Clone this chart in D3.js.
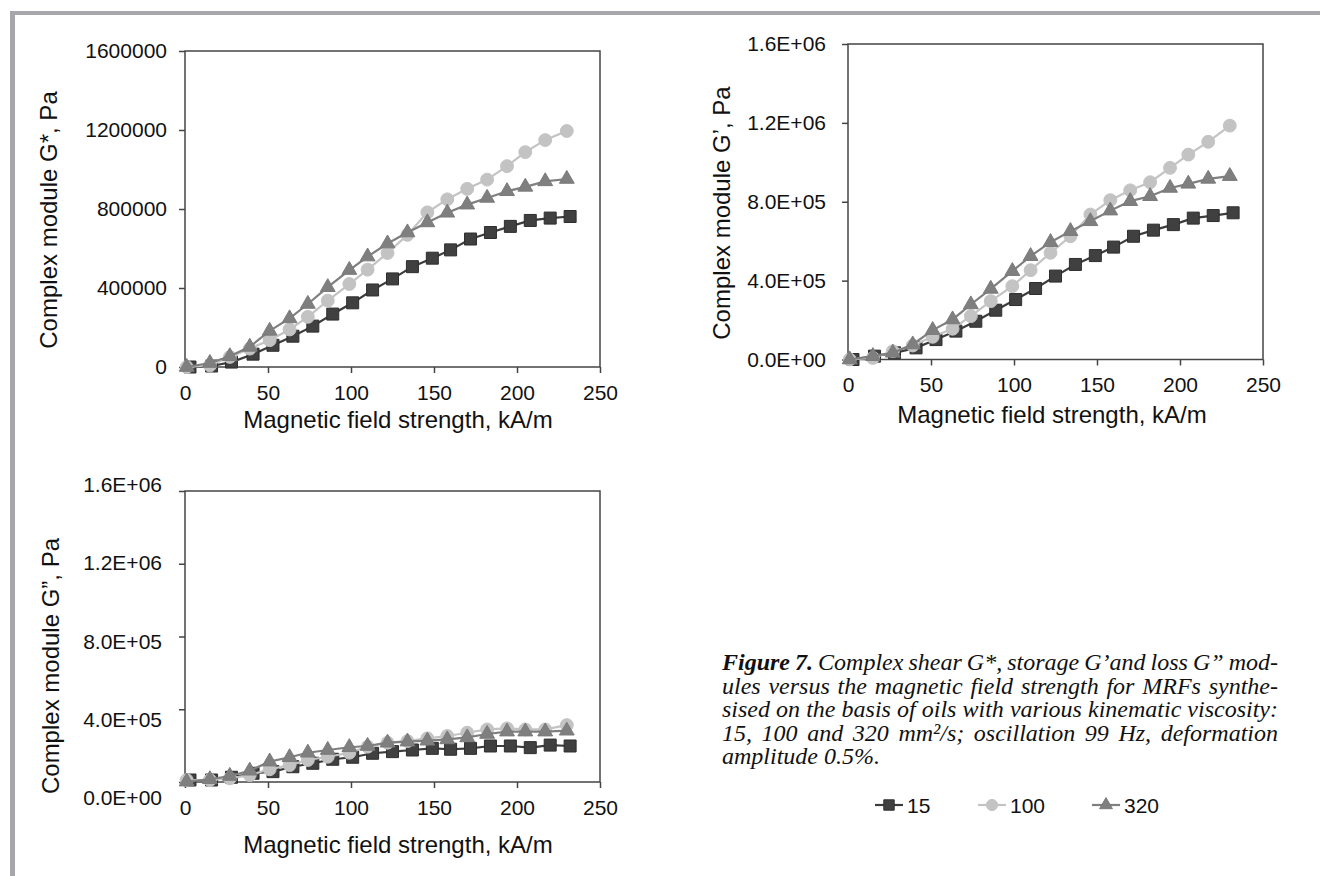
<!DOCTYPE html>
<html>
<head>
<meta charset="utf-8">
<script src="https://cdn.jsdelivr.net/npm/d3@7"></script>
<style>
  body { margin: 0; background: #fff; }
  svg { display: block; }
</style>
</head>
<body>
<svg id="fig" width="1320" height="876"></svg>
<script>
// field strength, kA/m (the 15 mm2/s series sits a little to the right in the source)
const field15 = [3, 16, 28, 41, 53, 65, 77, 89, 101, 113, 125, 137, 149, 160, 172, 184, 196, 208, 220, 232];
const field = [1, 15, 27, 39, 51, 63, 74, 86, 99, 110, 122, 134, 146, 158, 170, 182, 194, 205, 217, 230];

// complex shear modulus G*, Pa
const gStar15 = [0, 5000, 25000, 65000, 110000, 156000, 207000, 268000, 325000, 390000, 446000, 508000, 551000, 593000, 648000, 681000, 712000, 742000, 754000, 762000];
const gStar100 = [0, 8000, 51000, 93000, 136000, 190000, 254000, 336000, 420000, 493000, 577000, 669000, 783000, 849000, 902000, 949000, 1017000, 1088000, 1149000, 1195000];
const gStar320 = [0, 20000, 54000, 102000, 183000, 246000, 319000, 404000, 491000, 559000, 625000, 681000, 732000, 781000, 822000, 856000, 890000, 912000, 940000, 952000];

// storage modulus G', Pa
const gStore15 = [0, 17000, 34000, 59000, 101000, 144000, 194000, 250000, 304000, 360000, 423000, 482000, 527000, 570000, 625000, 656000, 684000, 717000, 730000, 744000];
const gStore100 = [0, 8000, 42000, 71000, 115000, 156000, 220000, 296000, 372000, 453000, 541000, 625000, 735000, 808000, 858000, 899000, 972000, 1039000, 1104000, 1186000];
const gStore320 = [0, 17000, 34000, 76000, 149000, 203000, 279000, 358000, 448000, 524000, 595000, 651000, 701000, 755000, 803000, 828000, 870000, 891000, 916000, 930000];

// loss modulus G", Pa
const gLoss15 = [11000, 11000, 26000, 48000, 57000, 84000, 103000, 125000, 136000, 158000, 167000, 176000, 185000, 180000, 185000, 198000, 198000, 189000, 203000, 198000];
const gLoss100 = [11000, 11000, 20000, 38000, 70000, 93000, 121000, 139000, 161000, 194000, 216000, 225000, 240000, 253000, 271000, 289000, 295000, 289000, 289000, 313000];
const gLoss320 = [2000, 15000, 33000, 62000, 112000, 136000, 161000, 176000, 191000, 198000, 216000, 222000, 227000, 234000, 245000, 264000, 277000, 277000, 277000, 282000];

const viscosities = ["15", "100", "320"];
const xTicks = [0, 50, 100, 150, 200, 250];
const yTicks = [0, 400000, 800000, 1200000, 1600000];

const SANS = "'Liberation Sans', Arial, sans-serif";
const SERIF = "'Liberation Serif', 'Times New Roman', serif";
const AXIS_COLOR = "#444";

const styles = {
	"15": { symbol: d3.symbolSquare, size: 144, fill: "#404040", stroke: "#2e2e2e", line: "#3c3c3c" },
	"100": { symbol: d3.symbolCircle, size: 130, fill: "#c3c3c3", stroke: "#c3c3c3", line: "#c3c3c3" },
	"320": { symbol: d3.symbolTriangle, size: 95, fill: "#7f7f7f", stroke: "#7a7a7a", line: "#7f7f7f" }
};

const sciFormat = v => {
	if (v === 0) return "0.0E+00";
	const e = Math.floor(Math.log10(v));
	return (v / Math.pow(10, e)).toFixed(1) + "E+" + String(e).padStart(2, "0");
};

const panels = [
	{
		left: 185, right: 600, top: 51, bottom: 367,
		format: d3.format("d"), yPad: 12,
		title: "Complex module G*, Pa", titleX: 57, titleY: 220,
		xTitleX: 398, xTitleY: 428,
		series: [[field15, gStar15], [field, gStar100], [field, gStar320]]
	},
	{
		left: 848, right: 1263, top: 44, bottom: 359.5,
		format: sciFormat, yPad: 16,
		title: "Complex module G\u2019, Pa", titleX: 730, titleY: 213,
		xTitleX: 1052, xTitleY: 423,
		series: [[field15, gStore15], [field, gStore100], [field, gStore320]]
	},
	{
		left: 185, right: 600, top: 491, bottom: 782,
		format: sciFormat, yPad: 17,
		// tick labels drift away from their ticks in the source picture
		labelRange: [798, 485],
		title: "Complex module G\u201d, Pa", titleX: 59, titleY: 666,
		xTitleX: 398, xTitleY: 853,
		series: [[field15, gLoss15], [field, gLoss100], [field, gLoss320]]
	}
];

const svg = d3.select("#fig");

// grey page frame (top and left edges)
svg.append("rect").attr("x", 10).attr("y", 11).attr("width", 1310).attr("height", 4).attr("fill", "#a7a7ab");
svg.append("rect").attr("x", 10).attr("y", 11).attr("width", 5).attr("height", 865).attr("fill", "#a7a7ab");

function drawPanel(p) {
	const x = d3.scaleLinear().domain([0, 250]).range([p.left, p.right]);
	const y = d3.scaleLinear().domain([0, 1600000]).range([p.bottom, p.top]);

	const gx = svg.append("g")
		.attr("transform", `translate(0,${p.bottom})`)
		.call(d3.axisBottom(x).tickValues(xTicks).tickSize(6).tickPadding(12).tickFormat(d3.format("d")));
	gx.select(".domain").remove();

	const gy = svg.append("g")
		.attr("transform", `translate(${p.left},0)`)
		.call(d3.axisLeft(y).tickValues(yTicks).tickSize(6).tickPadding(p.yPad).tickFormat(p.format));
	gy.select(".domain").remove();

	if (p.labelRange) {
		const labelY = d3.scaleLinear().domain([0, 1600000]).range(p.labelRange);
		gy.selectAll(".tick text").attr("y", d => labelY(d) - y(d));
	}

	[gx, gy].forEach(g => {
		g.attr("font-family", SANS).attr("font-size", 21);
		g.selectAll(".tick line").attr("stroke", AXIS_COLOR).attr("stroke-width", 1.5);
		g.selectAll(".tick text").attr("fill", "#111");
	});

	// plot frame
	svg.append("rect")
		.attr("x", p.left).attr("y", p.top)
		.attr("width", p.right - p.left).attr("height", p.bottom - p.top)
		.attr("fill", "none").attr("stroke", AXIS_COLOR).attr("stroke-width", 1.5);

	const line = d3.line().x(d => x(d[0])).y(d => y(d[1]));

	p.series.forEach(([xs, ys], i) => {
		const st = styles[viscosities[i]];
		const pts = d3.zip(xs, ys);
		const g = svg.append("g").attr("class", "series s" + viscosities[i]);
		g.append("path")
			.datum(pts)
			.attr("d", line)
			.attr("fill", "none")
			.attr("stroke", st.line)
			.attr("stroke-width", 2.2);
		g.selectAll("path.marker")
			.data(pts)
			.enter()
			.append("path")
			.attr("class", "marker")
			.attr("transform", d => `translate(${x(d[0])},${y(d[1])})`)
			.attr("d", d3.symbol().type(st.symbol).size(st.size))
			.attr("fill", st.fill)
			.attr("stroke", st.stroke)
			.attr("stroke-width", 1);
	});

	svg.append("text")
		.attr("transform", `translate(${p.titleX},${p.titleY}) rotate(-90)`)
		.attr("text-anchor", "middle")
		.attr("font-family", SANS).attr("font-size", 24).attr("fill", "#111")
		.text(p.title);

	svg.append("text")
		.attr("x", p.xTitleX).attr("y", p.xTitleY)
		.attr("text-anchor", "middle")
		.attr("font-family", SANS).attr("font-size", 24).attr("fill", "#111")
		.text("Magnetic field strength, kA/m");
}

panels.forEach(drawPanel);

// caption, justified word by word
const captionLeft = 722, captionRight = 1278;
const captionLines = [
	{ text: "Figure 7. Complex shear G*, storage G\u2019and loss G\u201d mod-", bold: 2, justify: true },
	{ text: "ules versus the magnetic field strength for MRFs synthe-", bold: 0, justify: true },
	{ text: "sised on the basis of oils with various kinematic viscosity:", bold: 0, justify: true },
	{ text: "15, 100 and 320 mm\u00b2/s; oscillation 99 Hz, deformation", bold: 0, justify: true },
	{ text: "amplitude 0.5%.", bold: 0, justify: false }
];
const captionBaselines = [670, 693.6, 717.2, 740.8, 764.4];

captionLines.forEach((ln, li) => {
	const words = ln.text.split(" ");
	const nodes = words.map((w, wi) => svg.append("text")
		.attr("y", captionBaselines[li])
		.attr("font-family", SERIF)
		.attr("font-style", "italic")
		.attr("font-weight", wi < ln.bold ? "bold" : "normal")
		.attr("font-size", 24)
		.attr("fill", "#111")
		.text(w));
	const widths = nodes.map(n => n.node().getComputedTextLength());
	const gap = ln.justify
		? Math.max(3, (captionRight - captionLeft - d3.sum(widths)) / (words.length - 1))
		: 6;
	let cx = captionLeft;
	nodes.forEach((n, i) => {
		n.attr("x", cx);
		cx += widths[i] + gap;
	});
});

// legend
const legendY = 805;
const legendX = [889, 992, 1106];
viscosities.forEach((v, i) => {
	const st = styles[v];
	const g = svg.append("g").attr("transform", `translate(${legendX[i]},${legendY})`);
	g.append("line").attr("x1", -14).attr("x2", 14).attr("stroke", st.line).attr("stroke-width", 2.2);
	g.append("path")
		.attr("d", d3.symbol().type(st.symbol).size(st.size * 0.75))
		.attr("fill", st.fill).attr("stroke", st.stroke);
	g.append("text")
		.attr("x", 18).attr("y", 7.5)
		.attr("font-family", SANS).attr("font-size", 21).attr("fill", "#111")
		.text(v);
});
</script>
</body>
</html>
